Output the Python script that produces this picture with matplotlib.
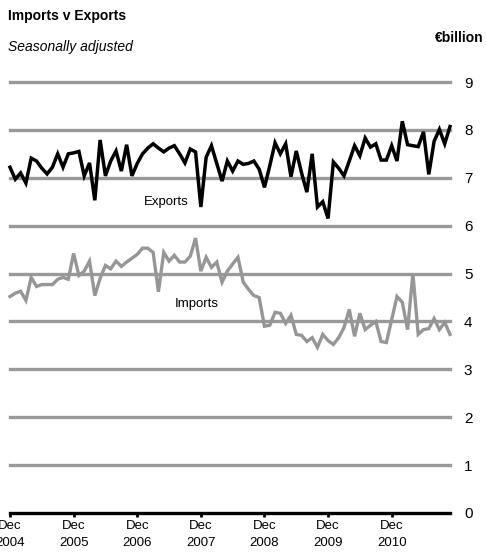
# Importing the relevant libraries
import matplotlib.pyplot as plt

##########

# Monthly data, Dec 2004 to Nov 2011 (€billion, seasonally adjusted)
exports = [7.22, 6.97, 7.10, 6.89, 7.41, 7.35, 7.20, 7.08, 7.22, 7.50, 7.22, 7.50,
           7.52, 7.55, 7.04, 7.31, 6.53, 7.79, 7.04, 7.35, 7.56, 7.14, 7.69, 7.04,
           7.30, 7.50, 7.62, 7.71, 7.62, 7.54, 7.62, 7.67, 7.50, 7.31, 7.60, 7.54,
           6.39, 7.43, 7.67, 7.30, 6.93, 7.35, 7.14, 7.35, 7.28, 7.30, 7.35, 7.18,
           6.80, 7.25, 7.73, 7.50, 7.71, 7.02, 7.56, 7.10, 6.70, 7.50, 6.39, 6.50,
           6.15, 7.33, 7.20, 7.04, 7.35, 7.67, 7.46, 7.83, 7.64, 7.71, 7.37, 7.37,
           7.67, 7.35, 8.18, 7.69, 7.67, 7.65, 7.96, 7.07, 7.76, 8.01, 7.71, 8.07]

imports = [4.52, 4.59, 4.63, 4.44, 4.92, 4.73, 4.77, 4.77, 4.77, 4.88, 4.92, 4.88,
           5.42, 4.96, 5.05, 5.26, 4.54, 4.90, 5.17, 5.10, 5.26, 5.15, 5.24, 5.32,
           5.40, 5.53, 5.53, 5.44, 4.62, 5.44, 5.26, 5.38, 5.24, 5.24, 5.36, 5.74,
           5.05, 5.34, 5.13, 5.24, 4.82, 5.05, 5.20, 5.34, 4.82, 4.67, 4.54, 4.50,
           3.90, 3.92, 4.19, 4.17, 3.96, 4.13, 3.73, 3.71, 3.58, 3.66, 3.46, 3.73,
           3.60, 3.52, 3.66, 3.87, 4.25, 3.69, 4.17, 3.83, 3.92, 4.00, 3.58, 3.56,
           4.04, 4.52, 4.40, 3.83, 5.00, 3.73, 3.83, 3.85, 4.06, 3.83, 3.98, 3.73]

tick_months = [0, 12, 24, 36, 48, 60, 72]
tick_labels = ["Dec\n2004", "Dec\n2005", "Dec\n2006", "Dec\n2007",
               "Dec\n2008", "Dec\n2009", "Dec\n2010"]
y_levels = [1, 2, 3, 4, 5, 6, 7, 8, 9]

##########

plt.rcParams['font.family'] = ['Liberation Sans', 'DejaVu Sans']

fig = plt.figure(figsize=(4.86, 5.55), dpi=100)
ax = fig.add_axes([10 / 486, 1 - 513 / 555, 440 / 486, 431 / 555])

months = list(range(len(exports)))

# Gridlines and zero axis
for level in y_levels:
    ax.axhline(level, color="#9a9a9a", linewidth=2.4, zorder=1, clip_on=False)
ax.axhline(0, color="black", linewidth=2.4, zorder=3, clip_on=False)

ax.plot(months, imports, color="#969696", linewidth=2.4, zorder=2,
        solid_joinstyle="miter", clip_on=False)
ax.plot(months, exports, color="black", linewidth=2.5, zorder=2,
        solid_joinstyle="miter", clip_on=False)

ax.text(29.5, 6.5, "Exports", fontsize=9.5, ha="center", va="center")
ax.text(35.2, 4.37, "Imports", fontsize=9.5, ha="center", va="center")

ax.set_xlim(0, 83)
ax.set_ylim(0, 9)

for side in ["top", "bottom", "left", "right"]:
    ax.spines[side].set_visible(False)

ax.set_xticks(tick_months)
ax.set_xticklabels(tick_labels, fontsize=9.5, linespacing=1.6)
ax.tick_params(axis="x", length=3, width=2, color="black", pad=2)

ax.yaxis.tick_right()
ax.set_yticks([0] + y_levels)
ax.set_yticklabels([str(v) for v in [0] + y_levels], fontsize=11)
ax.tick_params(axis="y", length=0, pad=10)

# Titles
fig.text(8 / 486, 1 - 16 / 555, "Imports v Exports", fontsize=10,
         fontweight="bold", ha="left", va="center")
fig.text(8 / 486, 1 - 47 / 555, "Seasonally adjusted", fontsize=10,
         fontstyle="italic", ha="left", va="center")
fig.text(484 / 486, 1 - 38 / 555, "€billion", fontsize=10,
         fontweight="bold", ha="right", va="center")

fig.savefig("out.png", dpi=100)
